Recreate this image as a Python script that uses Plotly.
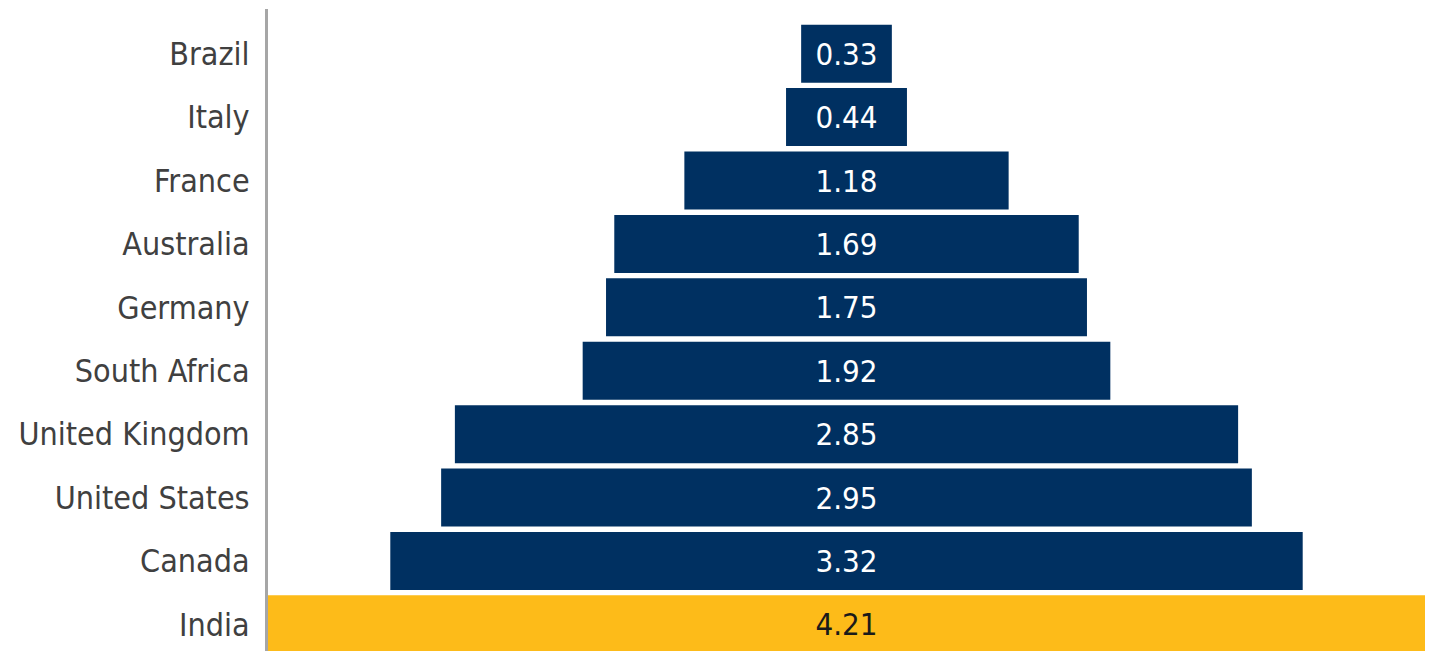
import plotly.graph_objects as go

countries = ["Brazil", "Italy", "France", "Australia", "Germany", "South Africa",
             "United Kingdom", "United States", "Canada", "India"]
values = [0.33, 0.44, 1.18, 1.69, 1.75, 1.92, 2.85, 2.95, 3.32, 4.21]
highlight = "India"

NAVY = "#003061"
GOLD = "#FDBB19"
colors = [GOLD if c == highlight else NAVY for c in countries]
text_colors = ["#1a1a1a" if c == highlight else "white" for c in countries]

FONT = "DejaVu Sans Condensed, Liberation Sans Narrow, sans-serif"

fig = go.Figure(go.Funnel(
    y=countries,
    x=values,
    marker=dict(color=colors, line=dict(width=0)),
    texttemplate="%{x:.2f}",
    textposition="inside",
    insidetextanchor="middle",
    textfont=dict(family=FONT, size=31, color=text_colors),
    connector=dict(visible=False),
    hoverinfo="y+x",
))

half = max(values) / 2
fig.update_layout(
    width=1433, height=651,
    margin=dict(l=268, r=8, t=9, b=0, autoexpand=False),
    paper_bgcolor="white", plot_bgcolor="white",
    funnelgap=0.085,
    showlegend=False,
    uniformtext=dict(minsize=31, mode="show"),
    xaxis=dict(visible=False, range=[-half, half], fixedrange=True),
    yaxis=dict(
        type="category",
        categoryorder="array", categoryarray=countries,
        range=[9.42, -0.705],
        autorange=False,
        automargin=False,
        showline=True, linecolor="#a6a6a6", linewidth=3,
        showgrid=False, zeroline=False,
        ticks="", ticklabelstandoff=9,
        tickfont=dict(family=FONT, size=32, color="#404040"),
    ),
)

fig.write_html("out.html")
